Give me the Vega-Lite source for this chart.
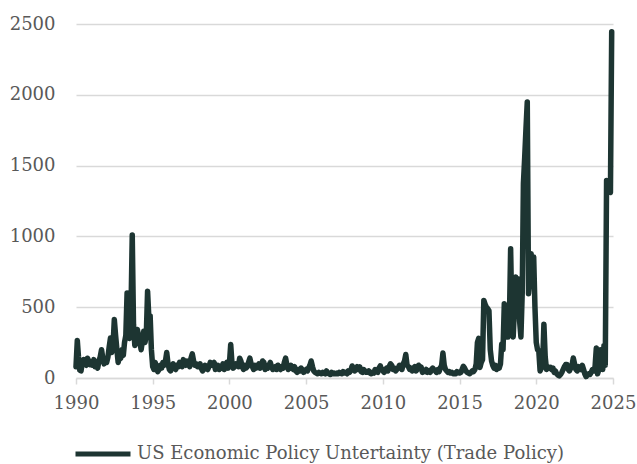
{
  "$schema": "https://vega.github.io/schema/vega-lite/v6.json",
  "width": 537,
  "height": 354,
  "autosize": {"type": "none"},
  "padding": {"left": 76, "top": 24, "right": 24, "bottom": 86},
  "background": "white",
  "config": {
    "view": {"stroke": null},
    "font": "DejaVu Serif",
    "axis": {"labelFont": "DejaVu Serif", "labelFontSize": 18, "labelColor": "#595959", "title": null, "gridColor": "#d9d9d9", "gridWidth": 1.5},
    "legend": {"labelFont": "DejaVu Serif", "labelFontSize": 18, "labelColor": "#595959", "labelLimit": 0}
  },
  "data": {
    "values": [
      {"date":"1990-01-01","value":80},{"date":"1990-02-01","value":265},{"date":"1990-03-01","value":150},{"date":"1990-04-01","value":55},{"date":"1990-05-01","value":50},{"date":"1990-06-01","value":110},{"date":"1990-07-01","value":130},{"date":"1990-08-01","value":100},{"date":"1990-09-01","value":90},{"date":"1990-10-01","value":140},{"date":"1990-11-01","value":120},{"date":"1990-12-01","value":95},
      {"date":"1991-01-01","value":110},{"date":"1991-02-01","value":90},{"date":"1991-03-01","value":130},{"date":"1991-04-01","value":80},{"date":"1991-05-01","value":100},{"date":"1991-06-01","value":70},{"date":"1991-07-01","value":120},{"date":"1991-08-01","value":150},{"date":"1991-09-01","value":200},{"date":"1991-10-01","value":140},{"date":"1991-11-01","value":100},{"date":"1991-12-01","value":130},
      {"date":"1992-01-01","value":110},{"date":"1992-02-01","value":150},{"date":"1992-03-01","value":220},{"date":"1992-04-01","value":283},{"date":"1992-05-01","value":180},{"date":"1992-06-01","value":230},{"date":"1992-07-01","value":413},{"date":"1992-08-01","value":300},{"date":"1992-09-01","value":200},{"date":"1992-10-01","value":110},{"date":"1992-11-01","value":150},{"date":"1992-12-01","value":140},
      {"date":"1993-01-01","value":200},{"date":"1993-02-01","value":160},{"date":"1993-03-01","value":250},{"date":"1993-04-01","value":300},{"date":"1993-05-01","value":600},{"date":"1993-06-01","value":310},{"date":"1993-07-01","value":280},{"date":"1993-08-01","value":450},{"date":"1993-09-01","value":1010},{"date":"1993-10-01","value":380},{"date":"1993-11-01","value":230},{"date":"1993-12-01","value":260},
      {"date":"1994-01-01","value":343},{"date":"1994-02-01","value":290},{"date":"1994-03-01","value":250},{"date":"1994-04-01","value":200},{"date":"1994-05-01","value":260},{"date":"1994-06-01","value":330},{"date":"1994-07-01","value":250},{"date":"1994-08-01","value":300},{"date":"1994-09-01","value":613},{"date":"1994-10-01","value":430},{"date":"1994-11-01","value":440},{"date":"1994-12-01","value":200},
      {"date":"1995-01-01","value":80},{"date":"1995-02-01","value":60},{"date":"1995-03-01","value":110},{"date":"1995-04-01","value":70},{"date":"1995-05-01","value":45},{"date":"1995-06-01","value":60},{"date":"1995-07-01","value":90},{"date":"1995-08-01","value":70},{"date":"1995-09-01","value":110},{"date":"1995-10-01","value":90},{"date":"1995-11-01","value":120},{"date":"1995-12-01","value":180},
      {"date":"1996-01-01","value":100},{"date":"1996-02-01","value":60},{"date":"1996-03-01","value":50},{"date":"1996-04-01","value":80},{"date":"1996-05-01","value":100},{"date":"1996-06-01","value":70},{"date":"1996-07-01","value":60},{"date":"1996-08-01","value":90},{"date":"1996-09-01","value":80},{"date":"1996-10-01","value":110},{"date":"1996-11-01","value":100},{"date":"1996-12-01","value":80},
      {"date":"1997-01-01","value":130},{"date":"1997-02-01","value":100},{"date":"1997-03-01","value":90},{"date":"1997-04-01","value":120},{"date":"1997-05-01","value":110},{"date":"1997-06-01","value":80},{"date":"1997-07-01","value":140},{"date":"1997-08-01","value":170},{"date":"1997-09-01","value":120},{"date":"1997-10-01","value":90},{"date":"1997-11-01","value":100},{"date":"1997-12-01","value":80},
      {"date":"1998-01-01","value":80},{"date":"1998-02-01","value":100},{"date":"1998-03-01","value":70},{"date":"1998-04-01","value":50},{"date":"1998-05-01","value":60},{"date":"1998-06-01","value":90},{"date":"1998-07-01","value":70},{"date":"1998-08-01","value":60},{"date":"1998-09-01","value":80},{"date":"1998-10-01","value":110},{"date":"1998-11-01","value":90},{"date":"1998-12-01","value":100},
      {"date":"1999-01-01","value":110},{"date":"1999-02-01","value":60},{"date":"1999-03-01","value":70},{"date":"1999-04-01","value":90},{"date":"1999-05-01","value":60},{"date":"1999-06-01","value":80},{"date":"1999-07-01","value":70},{"date":"1999-08-01","value":100},{"date":"1999-09-01","value":60},{"date":"1999-10-01","value":90},{"date":"1999-11-01","value":110},{"date":"1999-12-01","value":70},
      {"date":"2000-01-01","value":100},{"date":"2000-02-01","value":237},{"date":"2000-03-01","value":110},{"date":"2000-04-01","value":70},{"date":"2000-05-01","value":80},{"date":"2000-06-01","value":100},{"date":"2000-07-01","value":90},{"date":"2000-08-01","value":80},{"date":"2000-09-01","value":140},{"date":"2000-10-01","value":120},{"date":"2000-11-01","value":80},{"date":"2000-12-01","value":60},
      {"date":"2001-01-01","value":90},{"date":"2001-02-01","value":70},{"date":"2001-03-01","value":80},{"date":"2001-04-01","value":110},{"date":"2001-05-01","value":140},{"date":"2001-06-01","value":100},{"date":"2001-07-01","value":80},{"date":"2001-08-01","value":60},{"date":"2001-09-01","value":90},{"date":"2001-10-01","value":70},{"date":"2001-11-01","value":80},{"date":"2001-12-01","value":100},
      {"date":"2002-01-01","value":70},{"date":"2002-02-01","value":90},{"date":"2002-03-01","value":120},{"date":"2002-04-01","value":110},{"date":"2002-05-01","value":60},{"date":"2002-06-01","value":80},{"date":"2002-07-01","value":70},{"date":"2002-08-01","value":90},{"date":"2002-09-01","value":110},{"date":"2002-10-01","value":80},{"date":"2002-11-01","value":60},{"date":"2002-12-01","value":70},
      {"date":"2003-01-01","value":80},{"date":"2003-02-01","value":60},{"date":"2003-03-01","value":90},{"date":"2003-04-01","value":70},{"date":"2003-05-01","value":60},{"date":"2003-06-01","value":80},{"date":"2003-07-01","value":70},{"date":"2003-08-01","value":110},{"date":"2003-09-01","value":140},{"date":"2003-10-01","value":90},{"date":"2003-11-01","value":60},{"date":"2003-12-01","value":70},
      {"date":"2004-01-01","value":90},{"date":"2004-02-01","value":70},{"date":"2004-03-01","value":60},{"date":"2004-04-01","value":80},{"date":"2004-05-01","value":50},{"date":"2004-06-01","value":40},{"date":"2004-07-01","value":60},{"date":"2004-08-01","value":50},{"date":"2004-09-01","value":70},{"date":"2004-10-01","value":60},{"date":"2004-11-01","value":40},{"date":"2004-12-01","value":50},
      {"date":"2005-01-01","value":60},{"date":"2005-02-01","value":50},{"date":"2005-03-01","value":70},{"date":"2005-04-01","value":90},{"date":"2005-05-01","value":120},{"date":"2005-06-01","value":80},{"date":"2005-07-01","value":50},{"date":"2005-08-01","value":40},{"date":"2005-09-01","value":35},{"date":"2005-10-01","value":30},{"date":"2005-11-01","value":40},{"date":"2005-12-01","value":35},
      {"date":"2006-01-01","value":30},{"date":"2006-02-01","value":40},{"date":"2006-03-01","value":35},{"date":"2006-04-01","value":30},{"date":"2006-05-01","value":50},{"date":"2006-06-01","value":35},{"date":"2006-07-01","value":30},{"date":"2006-08-01","value":25},{"date":"2006-09-01","value":40},{"date":"2006-10-01","value":30},{"date":"2006-11-01","value":35},{"date":"2006-12-01","value":30},
      {"date":"2007-01-01","value":35},{"date":"2007-02-01","value":30},{"date":"2007-03-01","value":40},{"date":"2007-04-01","value":35},{"date":"2007-05-01","value":30},{"date":"2007-06-01","value":45},{"date":"2007-07-01","value":35},{"date":"2007-08-01","value":40},{"date":"2007-09-01","value":30},{"date":"2007-10-01","value":50},{"date":"2007-11-01","value":40},{"date":"2007-12-01","value":55},
      {"date":"2008-01-01","value":85},{"date":"2008-02-01","value":70},{"date":"2008-03-01","value":50},{"date":"2008-04-01","value":60},{"date":"2008-05-01","value":80},{"date":"2008-06-01","value":60},{"date":"2008-07-01","value":78},{"date":"2008-08-01","value":45},{"date":"2008-09-01","value":40},{"date":"2008-10-01","value":60},{"date":"2008-11-01","value":50},{"date":"2008-12-01","value":40},
      {"date":"2009-01-01","value":40},{"date":"2009-02-01","value":50},{"date":"2009-03-01","value":35},{"date":"2009-04-01","value":30},{"date":"2009-05-01","value":40},{"date":"2009-06-01","value":35},{"date":"2009-07-01","value":60},{"date":"2009-08-01","value":45},{"date":"2009-09-01","value":40},{"date":"2009-10-01","value":70},{"date":"2009-11-01","value":85},{"date":"2009-12-01","value":60},
      {"date":"2010-01-01","value":50},{"date":"2010-02-01","value":40},{"date":"2010-03-01","value":60},{"date":"2010-04-01","value":70},{"date":"2010-05-01","value":50},{"date":"2010-06-01","value":80},{"date":"2010-07-01","value":100},{"date":"2010-08-01","value":90},{"date":"2010-09-01","value":60},{"date":"2010-10-01","value":70},{"date":"2010-11-01","value":50},{"date":"2010-12-01","value":60},
      {"date":"2011-01-01","value":70},{"date":"2011-02-01","value":90},{"date":"2011-03-01","value":80},{"date":"2011-04-01","value":60},{"date":"2011-05-01","value":100},{"date":"2011-06-01","value":120},{"date":"2011-07-01","value":166},{"date":"2011-08-01","value":90},{"date":"2011-09-01","value":80},{"date":"2011-10-01","value":60},{"date":"2011-11-01","value":70},{"date":"2011-12-01","value":50},
      {"date":"2012-01-01","value":70},{"date":"2012-02-01","value":80},{"date":"2012-03-01","value":50},{"date":"2012-04-01","value":60},{"date":"2012-05-01","value":90},{"date":"2012-06-01","value":80},{"date":"2012-07-01","value":77},{"date":"2012-08-01","value":40},{"date":"2012-09-01","value":50},{"date":"2012-10-01","value":45},{"date":"2012-11-01","value":60},{"date":"2012-12-01","value":40},
      {"date":"2013-01-01","value":50},{"date":"2013-02-01","value":40},{"date":"2013-03-01","value":60},{"date":"2013-04-01","value":70},{"date":"2013-05-01","value":60},{"date":"2013-06-01","value":50},{"date":"2013-07-01","value":40},{"date":"2013-08-01","value":60},{"date":"2013-09-01","value":45},{"date":"2013-10-01","value":70},{"date":"2013-11-01","value":90},{"date":"2013-12-01","value":177},
      {"date":"2014-01-01","value":90},{"date":"2014-02-01","value":60},{"date":"2014-03-01","value":50},{"date":"2014-04-01","value":40},{"date":"2014-05-01","value":45},{"date":"2014-06-01","value":35},{"date":"2014-07-01","value":40},{"date":"2014-08-01","value":30},{"date":"2014-09-01","value":35},{"date":"2014-10-01","value":30},{"date":"2014-11-01","value":45},{"date":"2014-12-01","value":40},
      {"date":"2015-01-01","value":35},{"date":"2015-02-01","value":40},{"date":"2015-03-01","value":60},{"date":"2015-04-01","value":83},{"date":"2015-05-01","value":70},{"date":"2015-06-01","value":50},{"date":"2015-07-01","value":40},{"date":"2015-08-01","value":35},{"date":"2015-09-01","value":30},{"date":"2015-10-01","value":40},{"date":"2015-11-01","value":50},{"date":"2015-12-01","value":45},
      {"date":"2016-01-01","value":60},{"date":"2016-02-01","value":100},{"date":"2016-03-01","value":250},{"date":"2016-04-01","value":280},{"date":"2016-05-01","value":75},{"date":"2016-06-01","value":110},{"date":"2016-07-01","value":130},{"date":"2016-08-01","value":548},{"date":"2016-09-01","value":520},{"date":"2016-10-01","value":500},{"date":"2016-11-01","value":490},{"date":"2016-12-01","value":475},
      {"date":"2017-01-01","value":200},{"date":"2017-02-01","value":120},{"date":"2017-03-01","value":90},{"date":"2017-04-01","value":70},{"date":"2017-05-01","value":90},{"date":"2017-06-01","value":60},{"date":"2017-07-01","value":80},{"date":"2017-08-01","value":70},{"date":"2017-09-01","value":100},{"date":"2017-10-01","value":240},{"date":"2017-11-01","value":200},{"date":"2017-12-01","value":525},
      {"date":"2018-01-01","value":320},{"date":"2018-02-01","value":290},{"date":"2018-03-01","value":290},{"date":"2018-04-01","value":400},{"date":"2018-05-01","value":913},{"date":"2018-06-01","value":400},{"date":"2018-07-01","value":290},{"date":"2018-08-01","value":500},{"date":"2018-09-01","value":713},{"date":"2018-10-01","value":650},{"date":"2018-11-01","value":700},{"date":"2018-12-01","value":400},
      {"date":"2019-01-01","value":290},{"date":"2019-02-01","value":600},{"date":"2019-03-01","value":1373},{"date":"2019-04-01","value":1560},{"date":"2019-05-01","value":1760},{"date":"2019-06-01","value":1950},{"date":"2019-07-01","value":595},{"date":"2019-08-01","value":700},{"date":"2019-09-01","value":878},{"date":"2019-10-01","value":650},{"date":"2019-11-01","value":855},{"date":"2019-12-01","value":500},
      {"date":"2020-01-01","value":250},{"date":"2020-02-01","value":200},{"date":"2020-03-01","value":194},{"date":"2020-04-01","value":50},{"date":"2020-05-01","value":70},{"date":"2020-06-01","value":100},{"date":"2020-07-01","value":380},{"date":"2020-08-01","value":150},{"date":"2020-09-01","value":60},{"date":"2020-10-01","value":80},{"date":"2020-11-01","value":70},{"date":"2020-12-01","value":75},
      {"date":"2021-01-01","value":60},{"date":"2021-02-01","value":70},{"date":"2021-03-01","value":40},{"date":"2021-04-01","value":50},{"date":"2021-05-01","value":30},{"date":"2021-06-01","value":20},{"date":"2021-07-01","value":15},{"date":"2021-08-01","value":25},{"date":"2021-09-01","value":40},{"date":"2021-10-01","value":60},{"date":"2021-11-01","value":80},{"date":"2021-12-01","value":95},
      {"date":"2022-01-01","value":95},{"date":"2022-02-01","value":60},{"date":"2022-03-01","value":50},{"date":"2022-04-01","value":70},{"date":"2022-05-01","value":90},{"date":"2022-06-01","value":141},{"date":"2022-07-01","value":100},{"date":"2022-08-01","value":60},{"date":"2022-09-01","value":50},{"date":"2022-10-01","value":80},{"date":"2022-11-01","value":70},{"date":"2022-12-01","value":60},
      {"date":"2023-01-01","value":90},{"date":"2023-02-01","value":60},{"date":"2023-03-01","value":30},{"date":"2023-04-01","value":10},{"date":"2023-05-01","value":20},{"date":"2023-06-01","value":30},{"date":"2023-07-01","value":25},{"date":"2023-08-01","value":40},{"date":"2023-09-01","value":60},{"date":"2023-10-01","value":50},{"date":"2023-11-01","value":80},{"date":"2023-12-01","value":212},
      {"date":"2024-01-01","value":30},{"date":"2024-02-01","value":60},{"date":"2024-03-01","value":200},{"date":"2024-04-01","value":180},{"date":"2024-05-01","value":60},{"date":"2024-06-01","value":230},{"date":"2024-07-01","value":90},{"date":"2024-08-01","value":1395},{"date":"2024-09-01","value":1360},{"date":"2024-10-01","value":1340},{"date":"2024-11-01","value":1310},{"date":"2024-12-01","value":2445}
    ]
  },
  "mark": {"type": "line", "strokeWidth": 5.5, "strokeCap": "round", "strokeJoin": "round"},
  "encoding": {
    "x": {
      "field": "date",
      "type": "temporal",
      "scale": {"type": "utc", "domain": [{"year": 1990, "month": 1, "date": 1, "utc": true}, {"year": 2025, "month": 1, "date": 1, "utc": true}]},
      "axis": {
        "values": [
          {"year": 1990, "month": 1, "date": 1, "utc": true},
          {"year": 1995, "month": 1, "date": 1, "utc": true},
          {"year": 2000, "month": 1, "date": 1, "utc": true},
          {"year": 2005, "month": 1, "date": 1, "utc": true},
          {"year": 2010, "month": 1, "date": 1, "utc": true},
          {"year": 2015, "month": 1, "date": 1, "utc": true},
          {"year": 2020, "month": 1, "date": 1, "utc": true},
          {"year": 2025, "month": 1, "date": 1, "utc": true}
        ],
        "format": "%Y",
        "grid": false,
        "domainColor": "#d9d9d9",
        "domainWidth": 1.5,
        "tickColor": "#d9d9d9",
        "tickWidth": 1.5,
        "tickSize": 6,
        "labelPadding": 10,
        "labelFlush": false,
        "labelOverlap": false
      }
    },
    "y": {
      "field": "value",
      "type": "quantitative",
      "scale": {"domain": [0, 2500], "nice": false},
      "axis": {
        "values": [0, 500, 1000, 1500, 2000, 2500],
        "format": "d",
        "domain": false,
        "ticks": false,
        "labelPadding": 21,
        "grid": true
      }
    },
    "color": {
      "datum": "US Economic Policy Untertainty (Trade Policy)",
      "scale": {"range": ["#1d3532"]},
      "legend": {
        "title": null,
        "orient": "none",
        "legendX": -3,
        "legendY": 400,
        "symbolType": "stroke",
        "symbolSize": 3025,
        "symbolStrokeWidth": 5,
        "labelOffset": 4,
        "labelLimit": 0,
        "padding": 0
      }
    }
  }
}
